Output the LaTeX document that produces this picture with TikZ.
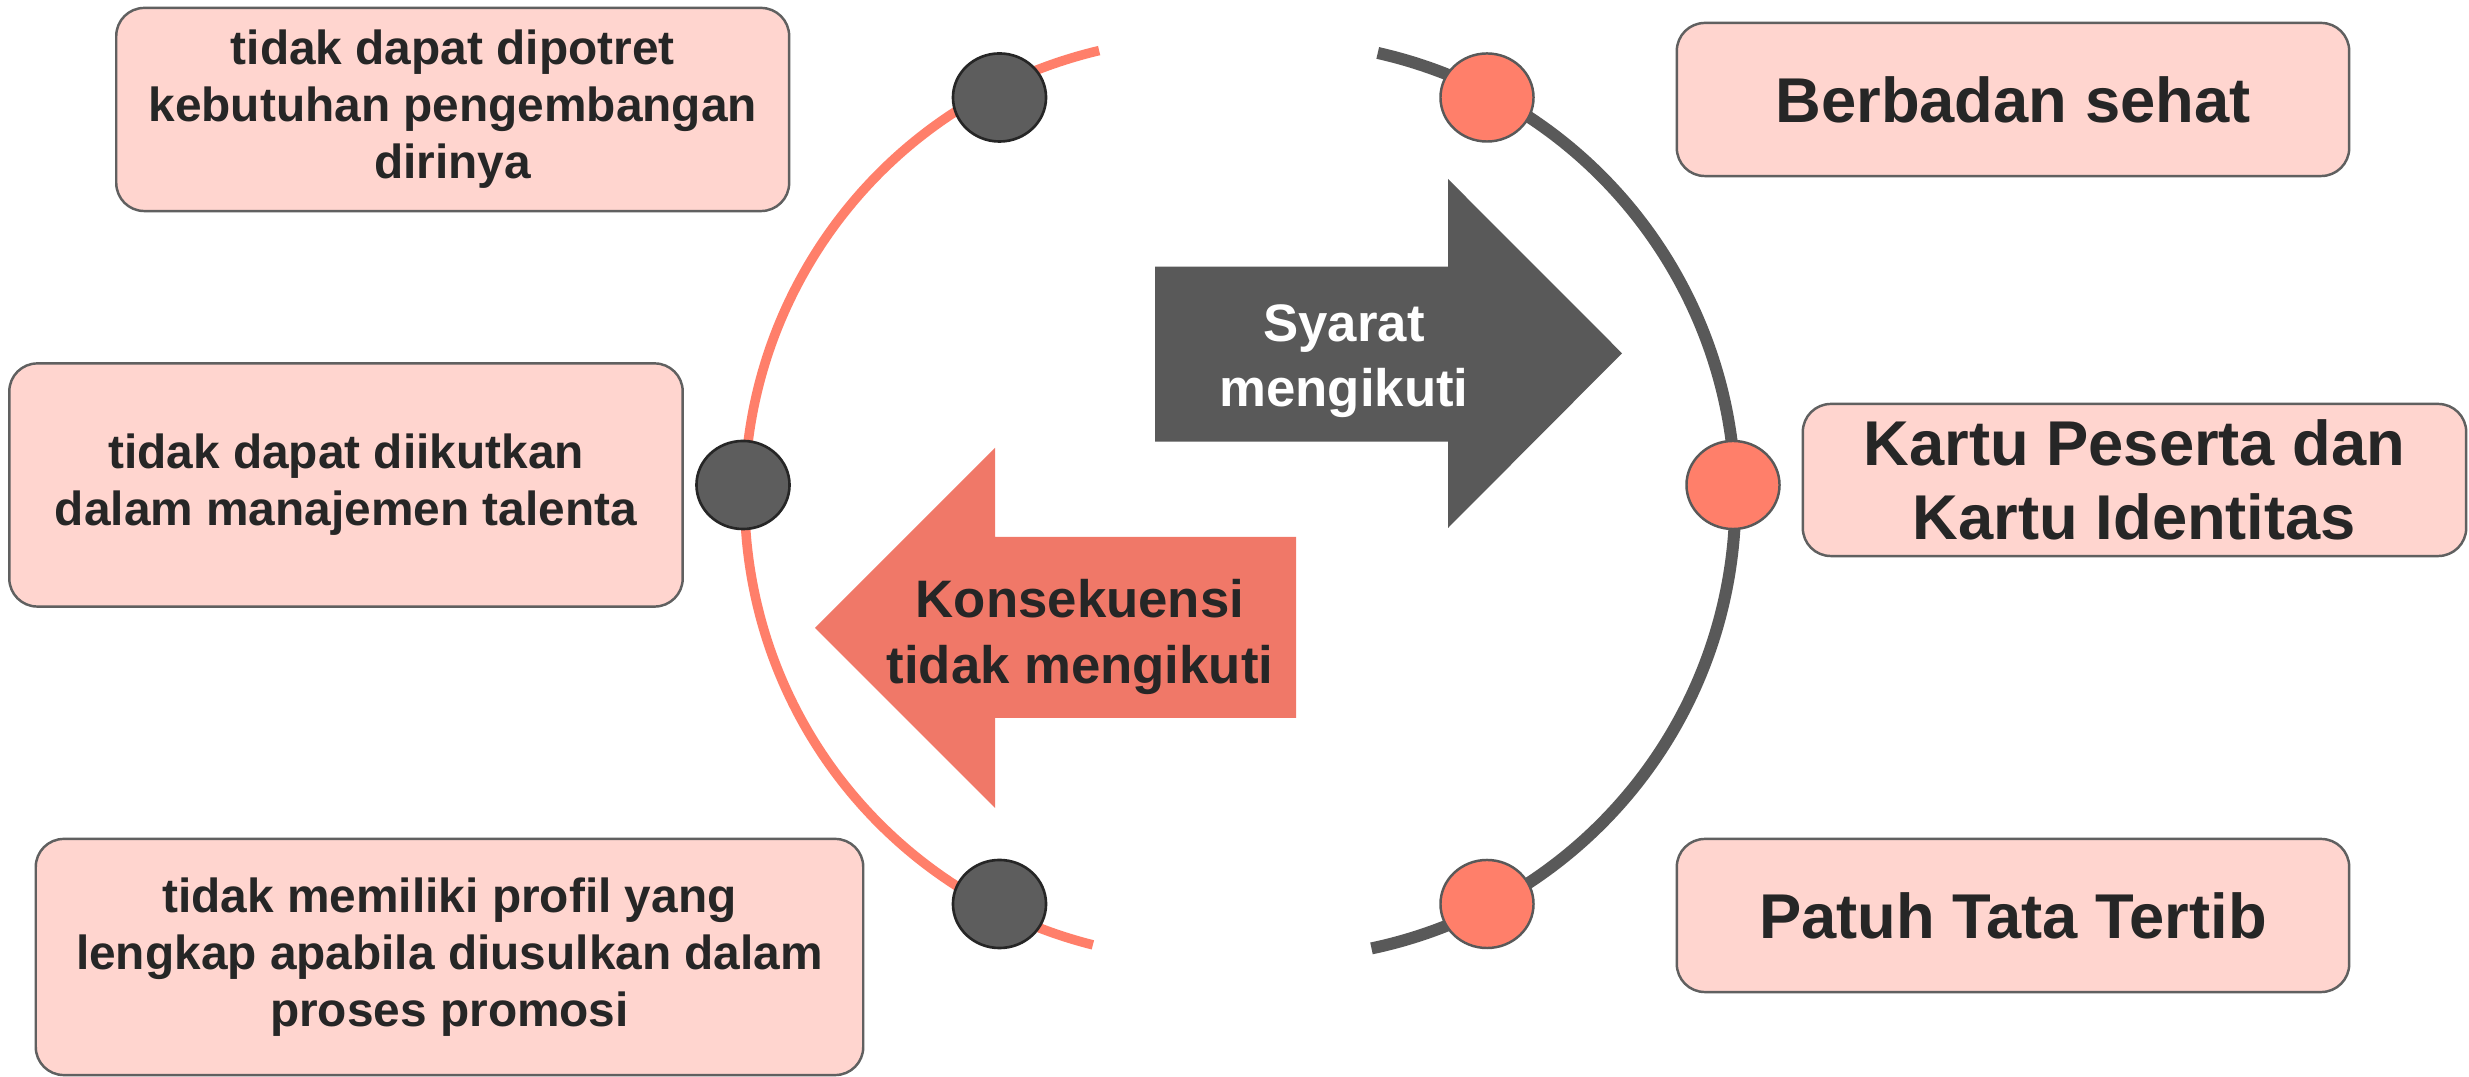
\documentclass[tikz,border=0pt]{standalone}
\usepackage{fontspec}
\setmainfont{Liberation Sans}
\usetikzlibrary{shapes.geometric}
\definecolor{boxfill}{HTML}{FFD5CF}
\definecolor{boxline}{HTML}{606060}
\definecolor{txt}{HTML}{262626}
\definecolor{darkg}{HTML}{595959}
\definecolor{dotg}{HTML}{5D5D5D}
\definecolor{coral}{HTML}{FF7F6A}
\definecolor{arrowcoral}{HTML}{F07868}
\begin{document}
\begin{tikzpicture}[x=0.01cm,y=-0.01cm,
  infobox/.style={draw=boxline, line width=0.7pt, fill=boxfill, rounded corners=0.28cm,
    text=txt, align=center, inner sep=0pt},
  leftfont/.style={font=\fontsize{13.6}{16.2}\selectfont\bfseries},
  rightfont/.style={font=\fontsize{18}{21}\selectfont\bfseries},
  arrowfont/.style={font=\fontsize{15}{18.5}\selectfont\bfseries, align=center, inner sep=0pt},
  darkdot/.style={ellipse, fill=dotg, draw=txt, line width=0.75pt, minimum width=0.93cm, minimum height=0.88cm, inner sep=0pt},
  coraldot/.style={ellipse, fill=coral, draw=darkg, line width=0.7pt, minimum width=0.93cm, minimum height=0.88cm, inner sep=0pt},
  coralarc/.style={line width=0.095cm, coral},
  grayarc/.style={line width=0.12cm, darkg}
]
\useasboundingbox (0,0) rectangle (2469,1077);
\fill[white] (0,0) rectangle (2469,1077);

% arcs
\draw[coralarc] ([shift={(103.3:4.6cm)}]1205,498.5) arc[start angle=103.3, end angle=255.9, radius=4.6cm];
\draw[grayarc] ([shift={(77.3:4.58cm)}]1277,500) arc[start angle=77.3, end angle=-78.1, radius=4.58cm];

% dots
\node[darkdot] (dtl) at (999.5,97.5) {};
\node[darkdot] (dml) at (743,485) {};
\node[darkdot] (dbl) at (999.5,904) {};
\node[coraldot] (dtr) at (1487,97.5) {};
\node[coraldot] (dmr) at (1733,485) {};
\node[coraldot] (dbr) at (1487,904) {};

% arrows
\fill[darkg] (1155,266.7) -- (1448,266.7) -- (1448,179) -- (1622,353.3) -- (1448,528) -- (1448,441.7) -- (1155,441.7) -- cycle;
\node[arrowfont, text=white] (syarat) at (1344,361) {Syarat\\mengikuti};
\fill[arrowcoral] (1296,537) -- (995,537) -- (995,448) -- (815,628) -- (995,808) -- (995,718) -- (1296,718) -- cycle;
\node[arrowfont, text=txt] (kons) at (1080,637) {Konsekuensi\\tidak mengikuti};

% left boxes
\node[infobox, leftfont, minimum width=6.725cm, minimum height=2.03cm] (btl) at (452.7,109.5)
  {tidak dapat dipotret\\kebutuhan pengembangan\\dirinya};
\node[infobox, leftfont, minimum width=6.73cm, minimum height=2.43cm] (bml) at (346,485)
  {tidak dapat diikutkan\\dalam manajemen talenta};
\node[infobox, leftfont, minimum width=8.27cm, minimum height=2.36cm] (bbl) at (449.5,957)
  {tidak memiliki profil yang\\lengkap apabila diusulkan dalam\\proses promosi};

% right boxes
\node[infobox, rightfont, minimum width=6.72cm, minimum height=1.53cm] (btr) at (2013,99.5)
  {Berbadan sehat};
\node[infobox, rightfont, minimum width=6.63cm, minimum height=1.52cm] (bmr) at (2134.5,480)
  {Kartu Peserta dan\\Kartu Identitas};
\node[infobox, rightfont, minimum width=6.72cm, minimum height=1.53cm] (bbr) at (2013,915.5)
  {Patuh Tata Tertib};
\end{tikzpicture}
\end{document}
